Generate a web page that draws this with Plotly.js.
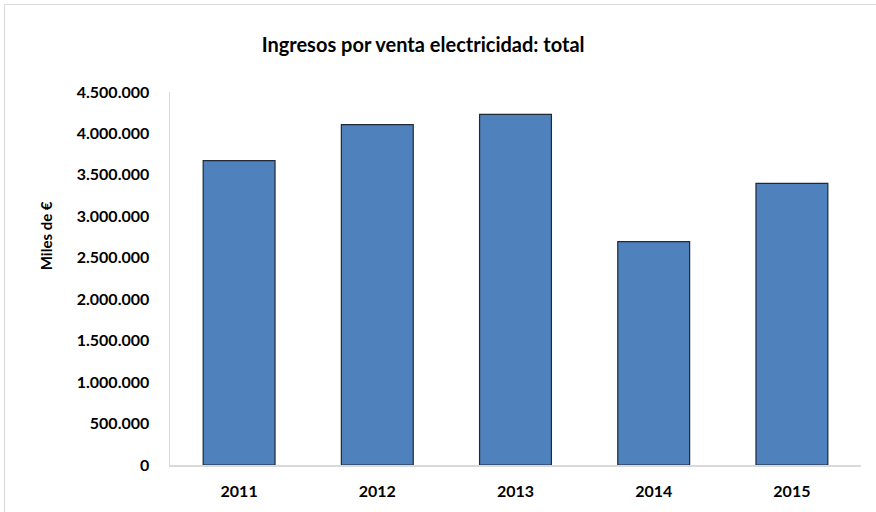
<!DOCTYPE html>
<html>
<head>
<meta charset="utf-8">
<script src="https://cdn.plot.ly/plotly-3.0.1.min.js"></script>
<style>
html,body{margin:0;padding:0;background:#fff;}
#chart{position:absolute;left:0;top:0;width:876px;height:512px;}
#frame{position:absolute;left:4px;top:4px;width:900px;height:600px;border:1px solid #d9d9d9;pointer-events:none;}
</style>
</head>
<body>
<div id="chart"></div>
<div id="frame"></div>
<script>
const years = ['2011', '2012', '2013', '2014', '2015'];
const ingresos = [3671000, 4106000, 4231000, 2694000, 3398000];
const yTicks = [0, 500000, 1000000, 1500000, 2000000, 2500000, 3000000, 3500000, 4000000, 4500000];

const fontFam = 'Lato, "Open Sans", sans-serif';

Plotly.newPlot('chart', [{
  type: 'bar',
  x: years,
  y: ingresos,
  width: 0.52,
  marker: {color: '#4F81BD', line: {color: '#1f2a36', width: 1.2}},
  hoverinfo: 'x+y'
}], {
  width: 876, height: 512,
  margin: {l: 170, r: 15, t: 92, b: 47},
  paper_bgcolor: '#fff', plot_bgcolor: '#fff',
  separators: ',.',
  title: {text: '<b>Ingresos por venta electricidad: total</b>', x: 0.483, xanchor: 'center', y: 0.912, yanchor: 'middle',
          font: {family: fontFam, size: 20, color: '#000'}},
  xaxis: {
    type: 'category', showgrid: false, showline: true, linecolor: '#d9d9d9', linewidth: 1.5,
    ticks: '', ticklabelstandoff: 11,
    tickfont: {family: fontFam, size: 16, color: '#000', weight: 'bold'}
  },
  yaxis: {
    range: [0, 4500000], tickvals: yTicks, tickformat: ',d', showgrid: false, zeroline: false,
    showline: true, linecolor: '#d9d9d9', linewidth: 1.5, ticks: '', ticklabelstandoff: 16,
    tickfont: {family: fontFam, size: 16, color: '#000', weight: 'bold'}
  },
  annotations: [{
    text: '<b>Miles de €</b>', xref: 'paper', yref: 'paper', x: -0.18, y: 0.615,
    xanchor: 'center', yanchor: 'middle', textangle: -90, showarrow: false,
    font: {family: fontFam, size: 15, color: '#000'}
  }],
  showlegend: false
}, {displayModeBar: false, staticPlot: true});
</script>
</body>
</html>
